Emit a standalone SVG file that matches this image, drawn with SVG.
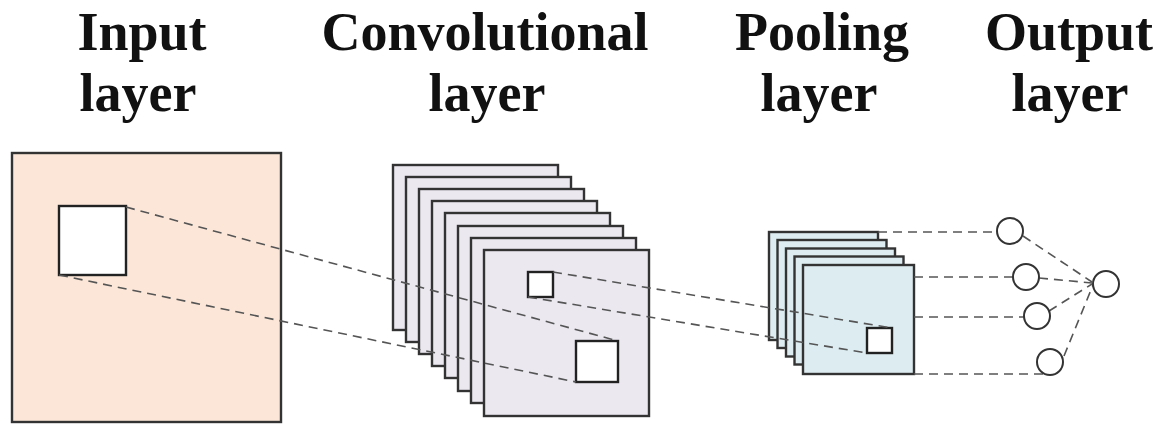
<svg xmlns="http://www.w3.org/2000/svg" width="1171" height="425" viewBox="0 0 1171 425">
  <style>
    .lbl { font-family: "Liberation Serif", "Times New Roman", serif; font-weight: bold; font-size: 54px; fill: #111; text-anchor: middle; }
    .frame { stroke: #333; stroke-width: 2.4; }
    .inp { fill: #fbe6d8; }
    .conv { fill: #ebe8f0; }
    .pool { fill: #dcecf1; }
    .win { fill: #ffffff; stroke: #222; stroke-width: 2.4; }
    .dash { fill: none; stroke: #555; stroke-width: 1.6; stroke-dasharray: 9 6; }
    .node { fill: #ffffff; stroke: #333; stroke-width: 2; }
  </style>
  <rect width="1171" height="425" fill="#ffffff"/>

  <g id="labels">
    <text class="lbl" x="142" y="50">Input</text>
    <text class="lbl" x="138" y="111">layer</text>
    <text class="lbl" x="485" y="50">Convolutional</text>
    <text class="lbl" x="487" y="111">layer</text>
    <text class="lbl" x="822" y="50">Pooling</text>
    <text class="lbl" x="819" y="111">layer</text>
    <text class="lbl" x="1069" y="50">Output</text>
    <text class="lbl" x="1070" y="111">layer</text>
  </g>

  <g id="input-layer">
    <rect class="frame inp" x="12" y="153" width="269" height="269"/>
    <rect class="win" x="59" y="206" width="67" height="69"/>
  </g>

  <g id="convolutional-layer">
    <rect class="frame conv" x="393" y="165" width="165" height="165"/>
    <rect class="frame conv" x="406" y="177" width="165" height="165"/>
    <rect class="frame conv" x="419" y="189" width="165" height="165"/>
    <rect class="frame conv" x="432" y="201" width="165" height="165"/>
    <rect class="frame conv" x="445" y="213" width="165" height="165"/>
    <rect class="frame conv" x="458" y="226" width="165" height="165"/>
    <rect class="frame conv" x="471" y="238" width="165" height="165"/>
    <rect class="frame conv" x="484" y="250" width="165" height="166"/>
    <rect class="win" x="528" y="272" width="25" height="25"/>
    <rect class="win" x="576" y="341" width="42" height="41"/>
  </g>

  <g id="pooling-layer">
    <rect class="frame pool" x="769" y="232" width="109" height="108"/>
    <rect class="frame pool" x="777.5" y="240" width="109" height="108"/>
    <rect class="frame pool" x="786" y="248.5" width="109" height="108"/>
    <rect class="frame pool" x="794.5" y="256.5" width="109" height="108"/>
    <rect class="frame pool" x="803" y="265" width="111" height="109"/>
    <rect class="win" x="867" y="328" width="25" height="25"/>
  </g>

  <g id="connectors">
    <line class="dash" x1="126" y1="207" x2="618" y2="341"/>
    <line class="dash" x1="59" y1="275" x2="576" y2="382"/>
    <line class="dash" x1="553" y1="272" x2="892" y2="328"/>
    <line class="dash" x1="528" y1="297" x2="867" y2="353"/>
    <line class="dash" x1="878" y1="232" x2="997" y2="232"/>
    <line class="dash" x1="914" y1="277" x2="1013" y2="277"/>
    <line class="dash" x1="914" y1="317" x2="1024" y2="317"/>
    <line class="dash" x1="914" y1="374" x2="1044" y2="374"/>
    <line class="dash" x1="1023" y1="236" x2="1092" y2="282"/>
    <line class="dash" x1="1039" y1="278" x2="1092" y2="283"/>
    <line class="dash" x1="1049" y1="311" x2="1092" y2="284"/>
    <line class="dash" x1="1064" y1="356" x2="1093" y2="285"/>
  </g>

  <g id="output-nodes">
    <circle class="node" cx="1010" cy="231" r="13"/>
    <circle class="node" cx="1026" cy="277" r="13"/>
    <circle class="node" cx="1037" cy="316" r="13"/>
    <circle class="node" cx="1050" cy="362" r="13"/>
  </g>
  <g id="output-final">
    <circle class="node" cx="1106" cy="284" r="13"/>
  </g>
</svg>
